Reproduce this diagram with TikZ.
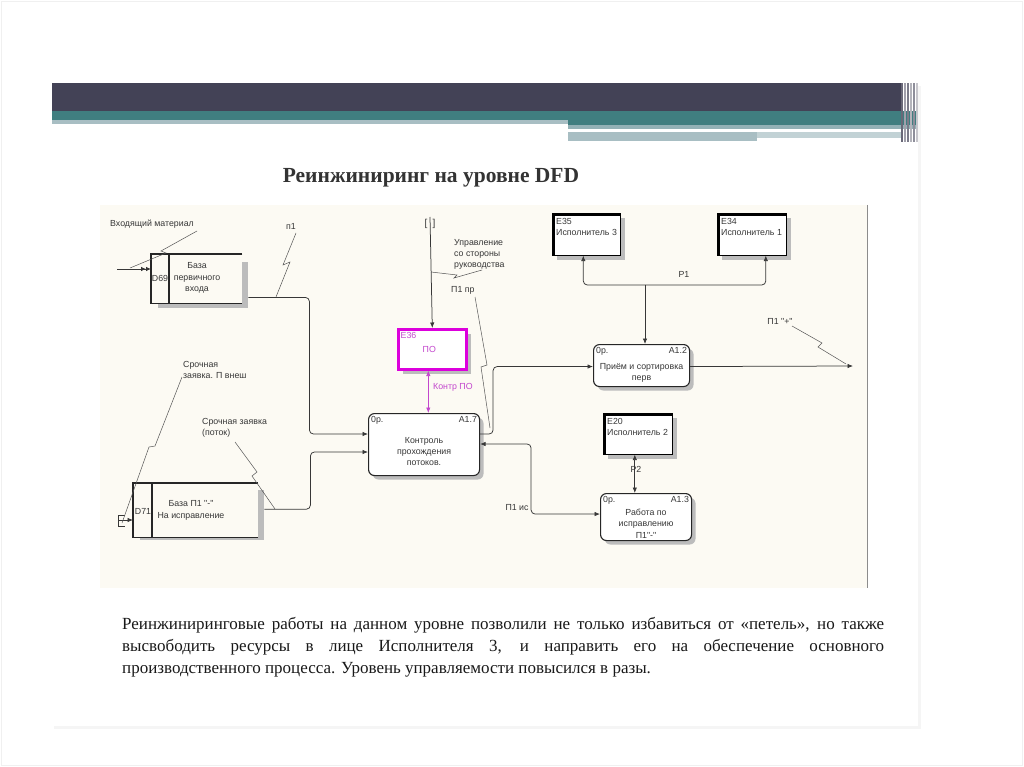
\documentclass[tikz,border=0pt]{standalone}
\usepackage{fontspec}
\setmainfont{Liberation Serif}
\newfontfamily\dsans{Liberation Sans}
\usetikzlibrary{arrows.meta,calc,shadows}
\definecolor{hdark}{RGB}{67,66,86}
\definecolor{hteal}{RGB}{64,126,128}
\definecolor{hlight}{RGB}{168,190,195}
\definecolor{cream}{RGB}{252,250,243}
\definecolor{lnc}{RGB}{55,55,55}
\definecolor{mag}{RGB}{220,0,220}
\definecolor{magt}{RGB}{195,70,205}
\definecolor{shad}{RGB}{188,188,188}
\begin{document}
\begin{tikzpicture}[x=1pt,y=-1pt,
  lbl/.style={font=\dsans\fontsize{8.8}{11.3}\selectfont, text=lnc, inner sep=0pt, align=left},
  clbl/.style={lbl, align=center},
  flow/.style={draw=lnc, line width=0.75pt, rounded corners=4pt, -{Latex[length=5.5pt,width=4.5pt]}},
  flow2/.style={flow, {Latex[length=5.5pt,width=4.5pt]}-{Latex[length=5.5pt,width=4.5pt]}},
  squig/.style={draw=lnc!85, line width=0.5pt},
  proc/.style={draw=black!85, line width=1.1pt, rounded corners=6pt, fill=white, inner sep=0pt, anchor=north west,
    drop shadow={shadow xshift=4pt, shadow yshift=-4pt, fill=shad, opacity=1}},
  ent/.style={draw=black, line width=0.6pt, fill=white, inner sep=0pt, anchor=north west,
    drop shadow={shadow xshift=5pt, shadow yshift=-5pt, fill=shad, opacity=1},
    path picture={\draw[line width=4.5pt] (path picture bounding box.south west) -- (path picture bounding box.north west) -- (path picture bounding box.north east);}},
  store/.style={inner sep=0pt, anchor=north west},
  stline/.style={draw=black!85, line width=1.1pt}
]
\useasboundingbox (0,0) rectangle (1024,767);
% slide frame
\draw[black!6, line width=0.8pt] (1,1) rectangle (1022,765);
\fill[black!4] (54,86) rectangle (921,729);
\fill[white] (52,84) rectangle (918,726);
% header
\fill[hdark] (52,83) rectangle (901,111);
\fill[hteal] (52,111) rectangle (918,120);
\fill[hlight] (52,120) rectangle (570,124);
\fill[hteal] (568,120) rectangle (918,125);
\fill[hlight!80!hteal] (568,125) rectangle (918,129);
\fill[hlight] (568,132) rectangle (757,141);
\fill[hlight!70] (757,132) rectangle (903,138);
\foreach \xx/\cc in {901/hdark!80, 904/hdark!50, 907/hdark!70, 910/hdark!40, 913/hdark!60, 916/hdark!30}
  \fill[\cc] (\xx,83) rectangle ++(2,59);
% title
\node[font=\bfseries\fontsize{21.5}{24}\selectfont, text=black!80] (title) at (431,178) {Реинжиниринг на уровне DFD};
% diagram area
\fill[cream] (100,205) rectangle (867,588);
\draw[black!45, line width=1pt] (867,205) -- (867,588);

% ---- stores
\node[store, minimum width=91, minimum height=49] (d69) at (151,254) {};
\fill[shad] ($(d69.north east)+(0,8)$) rectangle ($(d69.south east)+(6,5)$);
\fill[shad] ($(d69.south west)+(7,0)$) rectangle ($(d69.south east)+(6,5)$);
\draw[stline] (d69.north east) -- (d69.north west) -- (d69.south west) -- (d69.south east);
\draw[stline] ($(d69.north west)+(18,0)$) -- ($(d69.south west)+(18,0)$);
\node[lbl] (d69id) at (160,278) {D69};
\node[clbl] (d69t) at (197,278) {База\\первичного\\входа};

\node[store, minimum width=125, minimum height=54] (d71) at (133,483) {};
\fill[shad] ($(d71.north east)+(0,7)$) rectangle ($(d71.south east)+(6,3)$);
\fill[shad] ($(d71.south west)+(7,0)$) rectangle ($(d71.south east)+(6,3)$);
\draw[stline] (d71.north east) -- (d71.north west) -- (d71.south west) -- (d71.south east);
\draw[stline] ($(d71.north west)+(19,0)$) -- ($(d71.south west)+(19,0)$);
\node[lbl] (d71id) at (143,511) {D71};
\node[clbl] (d71t) at (191,510.5) {База П1 "-"\\На исправление};

% ---- processes
\node[proc, minimum width=111, minimum height=62] (a17) at (368,413) {};
\node[lbl, anchor=north west] (a17n) at ($(a17.north west)+(3,3)$) {0р.};
\node[lbl, anchor=north east] (a17i) at ($(a17.north east)+(-3,3)$) {A1.7};
\node[clbl] (a17t) at ($(a17.center)+(0,7)$) {Контроль\\прохождения\\потоков.};

\node[proc, minimum width=96, minimum height=42] (a12) at (593,344) {};
\node[lbl, anchor=north west] (a12n) at ($(a12.north west)+(3,3)$) {0р.};
\node[lbl, anchor=north east] (a12i) at ($(a12.north east)+(-3,3)$) {A1.2};
\node[clbl] (a12t) at ($(a12.center)+(0,7)$) {Приём и сортировка\\перв};

\node[proc, minimum width=91, minimum height=47] (a13) at (600,493) {};
\node[lbl, anchor=north west] (a13n) at ($(a13.north west)+(3,3)$) {0р.};
\node[lbl, anchor=north east] (a13i) at ($(a13.north east)+(-3,3)$) {A1.3};
\node[clbl] (a13t) at ($(a13.center)+(0,6.5)$) {Работа по\\исправлению\\П1"-"};

% ---- external entities
\node[ent, minimum width=68, minimum height=42] (e35) at (552,213) {};
\node[lbl, anchor=north west] (e35t) at ($(e35.north west)+(4,5)$) {E35\\Исполнитель 3};
\node[ent, minimum width=69, minimum height=42] (e34) at (717,213) {};
\node[lbl, anchor=north west] (e34t) at ($(e34.north west)+(4,5)$) {E34\\Исполнитель 1};
\node[ent, minimum width=69, minimum height=41] (e20) at (603,413) {};
\node[lbl, anchor=north west] (e20t) at ($(e20.north west)+(4,5)$) {E20\\Исполнитель 2};

\node[draw=mag, line width=2.6pt, fill=white, minimum width=68, minimum height=40, inner sep=0pt, anchor=north west,
  drop shadow={shadow xshift=5pt, shadow yshift=-5pt, fill=shad, opacity=1}] (e36) at (397,328) {};
\node[lbl, text=magt, anchor=north west] (e36i) at ($(e36.north west)+(3.5,4.5)$) {E36};
\node[lbl, text=magt] (e36t) at ($(e36.center)+(-3,0)$) {ПО};

% ---- free ends
\coordinate (in1) at (117,269);
\coordinate (in2) at (119,520);
\coordinate (ctop) at (430,217);
\coordinate (p1j) at (645,285);
\coordinate (outp) at (853,366);

% ---- flows
\draw[flow] ($(d69.south east)+(6,-6)$) -- ++(61,0) |- ($(a17.north west)+(0,21)$);
\draw[flow] ($(d71.east)+(6,-1)$) -- ++(46,0) |- ($(a17.north west)+(0,39)$);
\draw[flow] ($(a17.north east)+(0,21)$) -- ++(13,0) |- ($(a12.west)+(0,1)$);
\draw[flow] ($(a12.east)+(0,1)$) -- (outp);
\draw[flow] (p1j) -- (p1j |- a12.north);
\draw[flow] (p1j) -| ($(e35.south)+(-3,0)$);
\draw[flow] (p1j) -| ($(e34.south)+(14,0)$);
\draw[flow2] ($(e20.south)+(-3,0)$) -- ($(e20.south |- a13.north)+(-3,0)$);
\draw[flow2] ($(a17.north east)+(0,31)$) -- ++(51,0) |- ($(a13.west)+(0,-3)$);
\draw[flow] (ctop) -- (e36.north);
\draw[flow2, draw=magt, color=magt] ($(e36.south)+(-4,0)$) -- ($(e36.south |- a17.north)+(-4,0)$);
\draw[flow, -{Latex[length=5pt,width=4.5pt]Latex[length=5pt,width=4.5pt]}] (in1) -- (in1 -| d69.west);
\draw[flow] (in2) -- (in2 -| d71.west);
\draw[lnc, line width=0.6pt] (125,515) -- (118,515) -- (118,526) -- (125,526);

% ---- flow labels
\node[lbl, anchor=west] (lin) at (110,224) {Входящий материал};
\node[lbl] (lp1) at (291,226) {п1};
\node[lbl, anchor=north west] (lsz1) at (183,361) {Срочная\\заявка. П внеш};
\node[lbl, anchor=north west] (lsz2) at (202,418) {Срочная заявка\\(поток)};
\node[lbl, font=\dsans\fontsize{10}{11}\selectfont] (lbr) at (430,224) {[\,\,\,]};
\node[lbl, anchor=north west] (lupr) at (454,239) {Управление\\со стороны\\руководства};
\node[lbl, anchor=west] (lp1pr) at (451,290) {П1 пр};
\node[lbl, anchor=west, text=magt] (lkpo) at (433,387) {Контр ПО};
\node[lbl] (lP1) at (684,274) {P1};
\node[lbl] (lP2) at (636,469) {P2};
\node[lbl] (lpis) at (517,508) {П1 ис};
\node[lbl] (lplus) at (780,321) {П1 "+"};

% ---- leader squiggles
\draw[squig] (197,231) -- (161,251) -- (166,253) -- (130,268);
\draw[squig] (296,233) -- (283,265) -- (290,262) -- (276,297);
\draw[squig] (182,377) -- (155,446) -- (149,447) -- (122,523);
\draw[squig] (235,442) -- (257,472) -- (252,476) -- (275,509);
\draw[squig] (431,272) -- (457,275) -- (454,278) -- (482,270);
\draw[squig] (475,297) -- (487,365) -- (481,367) -- (490,428);
\draw[squig] (792,326) -- (822,343) -- (818,347) -- (846,364);

% ---- paragraph
\node[anchor=north west, inner sep=0pt, align=left, font=\fontsize{17}{22}\selectfont, text=black!90] (para) at (122,617) {%
\makebox[762pt][s]{Реинжиниринговые работы на данном уровне позволили не только избавиться от «петель», но также}\\
\makebox[762pt][s]{высвободить ресурсы в лице Исполнителя 3, и направить его на обеспечение основного}\\
производственного процесса. Уровень управляемости повысился в разы.};
\end{tikzpicture}
\end{document}
